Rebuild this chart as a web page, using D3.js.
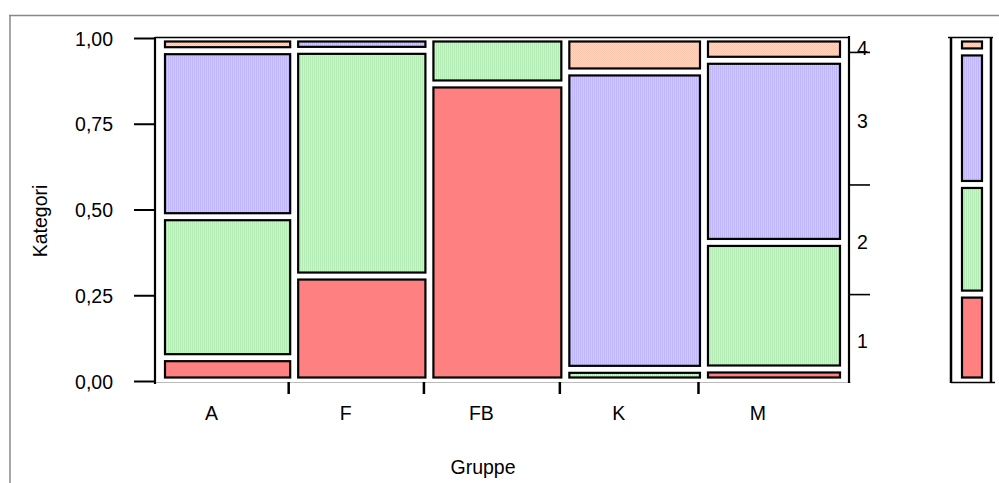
<!DOCTYPE html>
<html>
<head>
<meta charset="utf-8">
<script src="https://cdn.jsdelivr.net/npm/d3@7"></script>
<style>
  html, body { margin: 0; padding: 0; background: #fff; }
  svg { display: block; font-family: "Liberation Sans", Arial, sans-serif; }
</style>
</head>
<body>
<svg id="chart" width="999" height="483"></svg>
<script>
// ---- data ----
const groups = ["A", "F", "FB", "K", "M"];
const groupShare = [0.195, 0.198, 0.199, 0.203, 0.205];
const levels = ["1", "2", "3", "4"];
const share1 = [0.068, 0.306, 0.866, 0.000, 0.035];
const share2 = [0.411, 0.658, 0.134, 0.034, 0.369];
const share3 = [0.484, 0.036, 0.000, 0.867, 0.531];
const share4 = [0.037, 0.000, 0.000, 0.099, 0.065];
const yTicks = [0, 0.25, 0.5, 0.75, 1];
const yTickLabels = ["0,00", "0,25", "0,50", "0,75", "1,00"];
const xTitle = "Gruppe";
const yTitle = "Kategori";

const shares = [share1, share2, share3, share4];
const fills = ["#ff8080", "url(#pGreen)", "url(#pPurple)", "url(#pOrange)"];

const svg = d3.select("#chart");
const FONT = 19.5;

// patterns
const defs = svg.append("defs");
function stripes(id, a, b) {
  const p = defs.append("pattern").attr("id", id).attr("patternUnits", "userSpaceOnUse")
    .attr("width", 2).attr("height", 2);
  p.append("rect").attr("width", 2).attr("height", 2).attr("fill", a);
  p.append("rect").attr("width", 1).attr("height", 2).attr("fill", b);
}
stripes("pGreen", "#c8f8c8", "#b4ebb4");
stripes("pPurple", "#d0caff", "#bfb6fc");
(function () {
  const p = defs.append("pattern").attr("id", "pOrange").attr("patternUnits", "userSpaceOnUse")
    .attr("width", 2).attr("height", 2);
  p.append("rect").attr("width", 2).attr("height", 2).attr("fill", "#ffd6c2");
  p.append("rect").attr("width", 1).attr("height", 1).attr("fill", "#ffc6ae");
  p.append("rect").attr("x", 1).attr("y", 1).attr("width", 1).attr("height", 1).attr("fill", "#ffc6ae");
})();

// outer frame
svg.append("line").attr("x1", 9).attr("x2", 999).attr("y1", 15.5).attr("y2", 15.5)
  .attr("stroke", "#888").attr("stroke-width", 1.5);
svg.append("line").attr("x1", 10).attr("x2", 10).attr("y1", 15).attr("y2", 483)
  .attr("stroke", "#888").attr("stroke-width", 1.5);

// scales
const y = d3.scaleLinear().domain([0, 1]).range([381, 38]);
const x = d3.scaleLinear().domain([0, 1]).range([155, 838]);
const colEdges = [0];
groupShare.forEach((s, i) => colEdges.push(colEdges[i] + s));
const totalShare = colEdges[colEdges.length - 1];
const colX = colEdges.map(c => c / totalShare);

// mosaic rectangles
const g = svg.append("g");
groups.forEach((grp, i) => {
  let cum = 0;
  shares.forEach((arr, k) => {
    const v = arr[i];
    const lo = cum, hi = cum + v;
    cum = hi;
    if (v <= 0) return;
    const left = x(colX[i]) + 9, right = x(colX[i + 1]) + 3;
    const top = y(hi) + 2.5, bot = y(lo) - 2.5;
    g.append("rect")
      .attr("x", left + 1).attr("y", top + 1)
      .attr("width", Math.max(0, right - left - 2)).attr("height", Math.max(0, bot - top - 2))
      .attr("fill", fills[k]).attr("stroke", "#000").attr("stroke-width", 2.2);
  });
});

// marginal
const marg = shares.map(arr => d3.sum(arr.map((v, i) => v * groupShare[i])) / totalShare);
const margCum = [0];
marg.forEach((m, k) => margCum.push(margCum[k] + m));

const mg = svg.append("g");
margCum.slice(0, -1).forEach((lo, k) => {
  const hi = margCum[k + 1];
  if (hi - lo <= 0) return;
  const top = y(hi) + 2.5, bot = y(lo) - 2.5;
  mg.append("rect").attr("x", 962).attr("y", top + 1).attr("width", 20)
    .attr("height", Math.max(0, bot - top - 2))
    .attr("fill", fills[k]).attr("stroke", "#000").attr("stroke-width", 2.2);
});
// marginal frame
mg.append("line").attr("x1", 951).attr("x2", 951).attr("y1", 37).attr("y2", 383).attr("stroke", "#000").attr("stroke-width", 2.5);
mg.append("line").attr("x1", 991).attr("x2", 991).attr("y1", 37).attr("y2", 383).attr("stroke", "#000").attr("stroke-width", 2.5);
mg.append("line").attr("x1", 948).attr("x2", 993).attr("y1", 37.5).attr("y2", 37.5).attr("stroke", "#000").attr("stroke-width", 1.5);
mg.append("line").attr("x1", 951).attr("x2", 995).attr("y1", 382.5).attr("y2", 382.5).attr("stroke", "#000").attr("stroke-width", 1.5);

// frame of main plot
svg.append("line").attr("x1", 155).attr("x2", 850).attr("y1", 37.5).attr("y2", 37.5).attr("stroke", "#000").attr("stroke-width", 1.5);
svg.append("line").attr("x1", 155).attr("x2", 851).attr("y1", 382.5).attr("y2", 382.5).attr("stroke", "#bbb").attr("stroke-width", 1.2);
svg.append("line").attr("x1", 155).attr("x2", 155).attr("y1", 37).attr("y2", 384).attr("stroke", "#000").attr("stroke-width", 2.2);
svg.append("line").attr("x1", 849).attr("x2", 849).attr("y1", 36).attr("y2", 383).attr("stroke", "#000").attr("stroke-width", 2.2);

// left axis
const ya = svg.append("g").attr("transform", "translate(155,0)")
  .call(d3.axisLeft(y).tickValues(yTicks).tickFormat((d, i) => yTickLabels[i]).tickSize(21).tickPadding(21));
ya.select(".domain").remove();
ya.selectAll(".tick line").attr("stroke", "#000").attr("stroke-width", 2);
ya.selectAll(".tick text").attr("font-size", FONT).attr("fill", "#000")
  .attr("font-family", "'Liberation Sans', Arial, sans-serif").attr("dy", "0.36em");

// bottom axis
const xa = svg.append("g").attr("transform", "translate(0,382)")
  .call(d3.axisBottom(x).tickValues(colX.slice(1, -1)).tickFormat("").tickSize(12));
xa.select(".domain").remove();
xa.selectAll(".tick line").attr("stroke", "#000").attr("stroke-width", 2.5);

svg.append("g").selectAll("text").data(groups).join("text")
  .attr("x", (d, i) => (x(colX[i]) + x(colX[i + 1])) / 2 - 10)
  .attr("y", 420)
  .attr("text-anchor", "middle").attr("font-size", FONT).attr("fill", "#000")
  .text(d => d);

// right axis
const ra = svg.append("g").attr("transform", "translate(849,0)")
  .call(d3.axisRight(y).tickValues(margCum.slice(1, -1)).tickFormat("").tickSize(21));
ra.select(".domain").remove();
ra.selectAll(".tick line").attr("stroke", "#000").attr("stroke-width", 1.6);

svg.append("g").selectAll("text").data(levels).join("text")
  .attr("x", 857)
  .attr("y", (d, k) => (y(margCum[k]) + y(margCum[k + 1])) / 2 + 3)
  .attr("dy", "0.36em")
  .attr("font-size", FONT).attr("fill", "#000")
  .text(d => d);

// titles
svg.append("text").attr("x", 483).attr("y", 474).attr("text-anchor", "middle")
  .attr("font-size", FONT).attr("fill", "#000").text(xTitle);
svg.append("text").attr("transform", "translate(47,221) rotate(-90)").attr("text-anchor", "middle")
  .attr("font-size", FONT).attr("fill", "#000").text(yTitle);
</script>
</body>
</html>
